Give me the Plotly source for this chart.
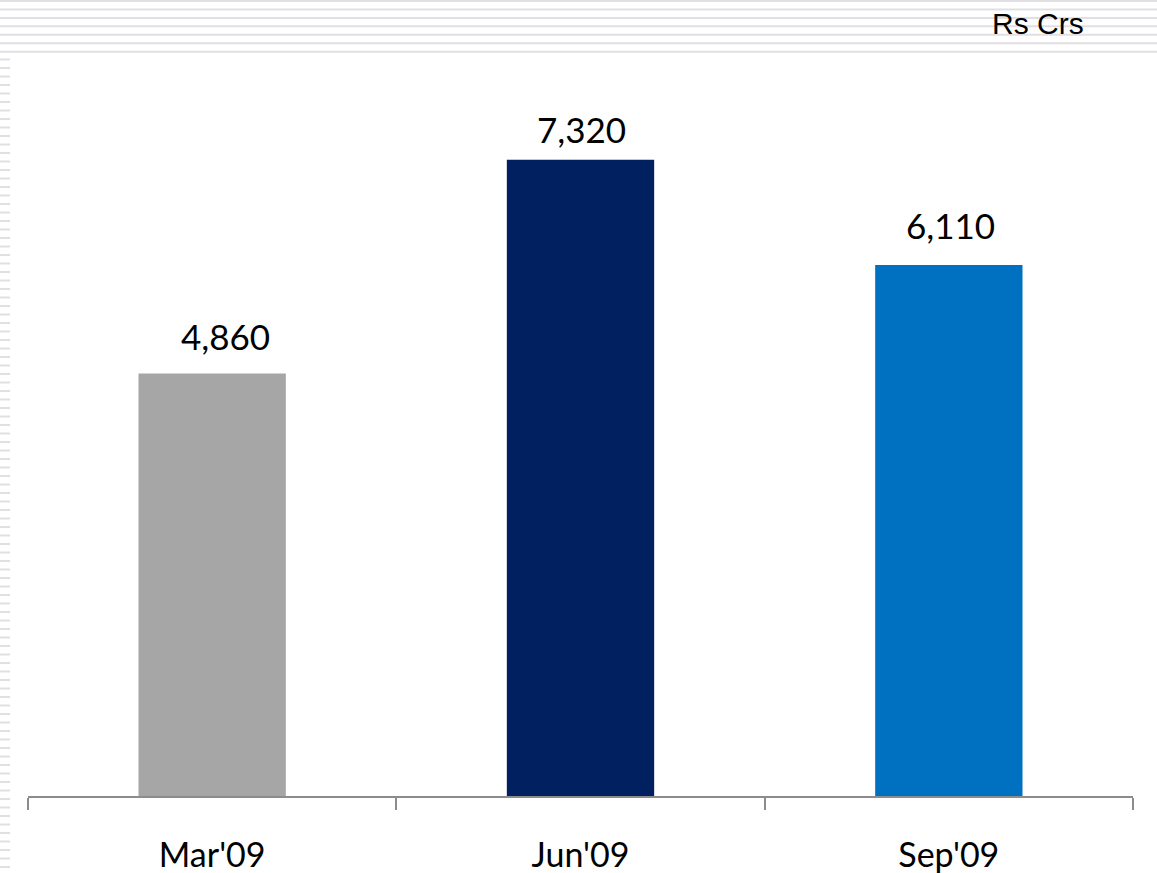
import plotly.graph_objects as go

categories = ["Mar'09", "Jun'09", "Sep'09"]
values = [4860, 7320, 6110]
labels = ["4,860", "7,320", "6,110"]
colors = ["#a6a6a6", "#002060", "#0070c0"]
label_xshift = [13, 1, 2]
label_yshift = [15, 8, 17]
unit_label = "Rs Crs"

W, H = 1157, 873
ML, MR, MT, MB = 28, 24, 60, 77
PW, PH = W - ML - MR, H - MT - MB

def px_x(px):
    return (px - ML) / PW

def px_y(py):
    return (H - MB - py) / PH

fig = go.Figure(go.Bar(
    x=categories, y=values, marker_color=colors, marker_line_width=0,
    hoverinfo="x+y",
))

annotations = []
for c, v, t, dx, dy in zip(categories, values, labels, label_xshift, label_yshift):
    annotations.append(dict(x=c, y=v, text=t, showarrow=False, xanchor="center",
                            yanchor="bottom", yshift=dy, xshift=dx,
                            font=dict(family="Lato, Noto Sans, sans-serif", size=35, color="#000000")))
annotations.append(dict(text=unit_label, xref="paper", yref="paper",
                        x=px_x(1038), y=px_y(23.5), showarrow=False,
                        xanchor="center", yanchor="middle",
                        font=dict(family="Liberation Sans, Arial, sans-serif", size=30, color="#000000")))

shapes = []
stripe_color = "#e2dfe4"
y = 1.0
while y < 53:
    shapes.append(dict(type="line", xref="paper", yref="paper",
                       x0=px_x(0), x1=px_x(W), y0=px_y(y), y1=px_y(y),
                       line=dict(color=stripe_color, width=2), layer="below"))
    y += 8.45
y = 59.5
while y < H:
    shapes.append(dict(type="line", xref="paper", yref="paper",
                       x0=px_x(0), x1=px_x(10), y0=px_y(y), y1=px_y(y),
                       line=dict(color=stripe_color, width=2), layer="below"))
    y += 8.5

fig.update_layout(
    width=W, height=H,
    margin=dict(l=ML, r=MR, t=MT, b=MB, autoexpand=False),
    paper_bgcolor="white", plot_bgcolor="white",
    showlegend=False, bargap=0.6,
    shapes=shapes,
    annotations=annotations,
    xaxis=dict(showline=True, linecolor="#8c8c8c", linewidth=2, automargin=False,
               ticks="outside", tickson="boundaries", ticklen=12, tickcolor="#8c8c8c", tickwidth=2,
               tickfont=dict(family="Lato, Noto Sans, sans-serif", size=34, color="#000000"),
               ticklabelstandoff=28, showgrid=False),
    yaxis=dict(range=[0, 8468], visible=False, showgrid=False, zeroline=False, automargin=False),
)

fig.write_html("out.html", config={"displayModeBar": False},
               post_script="document.body.style.margin='0';document.body.style.padding='0';")
